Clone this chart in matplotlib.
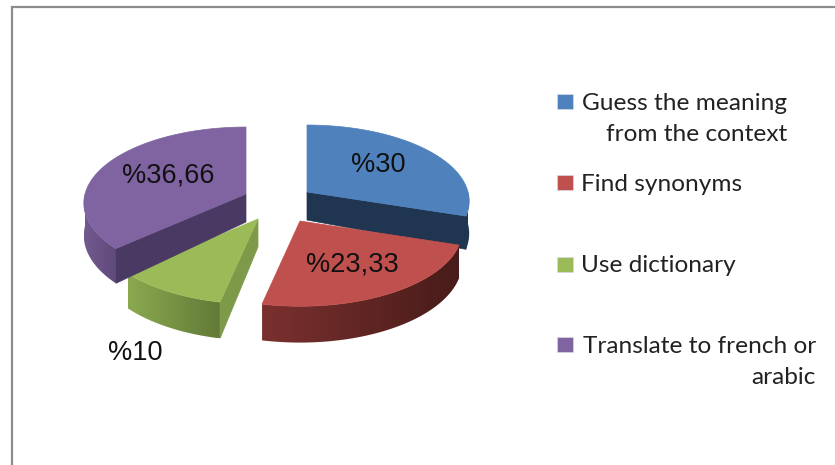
import numpy as np
import matplotlib
matplotlib.use("Agg")
import matplotlib.pyplot as plt
from matplotlib.colors import to_rgb
from matplotlib.patches import Polygon, Rectangle

# data
values = [30, 23.33, 10, 36.66]
pct_labels = ["%30", "%23,33", "%10", "%36,66"]
legend_labels = ["Guess the meaning\nfrom the context", "Find synonyms",
                 "Use dictionary", "Translate to french or\narabic"]

top_colors = ["#4f81bd", "#c0504d", "#9bbb59", "#8064a2"]
wall_from = ["#1f3550", "#7a302e", "#8aa94f", "#72598f"]
wall_to = ["#1f3550", "#481c1a", "#617a37", "#5f4a7a"]
cut_colors = ["#1f3550", "#481c1a", "#7d9a48", "#4a3a63"]

# layout, in pixels of the 835x465 image
apex = [(307, 192), (300, 221), (258, 219), (246, 194)]
label_pos = [(378, 165), (352, 264), (135, 353), (168, 175)]
legend_y = [94, 175, 257, 337]
legend_text = [(787, 119, "right"), (581, 184, "left"), (581, 265, "left"), (816, 362, "right")]
RX, RY, K, DEPTH = 161, 75, 0.12, 32


def project(center, theta, r=1.0, down=0.0):
    # theta clockwise from 12 o'clock, with a little perspective towards the viewer
    X, Y = np.sin(theta) * r, -np.cos(theta) * r
    s = 1 / (1 - K * Y)
    return np.column_stack([center[0] + RX * X * s, center[1] + RY * Y * s + down * s])


fig = plt.figure(figsize=(8.35, 4.65), dpi=100)
ax = fig.add_axes([0, 0, 1, 1])

# chart frame, cut off by the image on the right and at the bottom
ax.plot([12, 12, 840], [470, 7, 7], color="#8c8c8c", lw=1.6, solid_joinstyle="miter")

edges = np.radians(np.cumsum([0] + values) / np.sum(values) * 360)

for i in range(len(values)):
    c = apex[i]
    a0, a1 = edges[i], edges[i + 1]
    th = np.linspace(a0, a1, 80)

    # outer wall, only the part towards the viewer, shaded from left to right
    front = np.linspace(max(a0, np.pi / 2), min(a1, 3 * np.pi / 2), 60)
    if front[-1] > front[0]:
        wall = np.vstack([project(c, front), project(c, front[::-1], down=DEPTH)])
        patch = Polygon(wall, fc="none", ec="none", zorder=2 + i)
        ax.add_patch(patch)
        ramp = np.linspace(to_rgb(wall_from[i]), to_rgb(wall_to[i]), 64)[np.newaxis, :, :]
        extent = [wall[:, 0].min(), wall[:, 0].max(), wall[:, 1].max(), wall[:, 1].min()]
        im = ax.imshow(ramp, extent=extent, aspect="auto", zorder=2 + i, interpolation="bilinear")
        im.set_clip_path(patch)

    # flat cut wall where it faces the viewer
    cut = {0: a1, 2: a0, 3: a0}.get(i)
    if cut is not None:
        quad = np.vstack([[c], project(c, np.array([cut])),
                          project(c, np.array([cut]), down=DEPTH), [(c[0], c[1] + 28)]])
        ax.add_patch(Polygon(quad, fc=cut_colors[i], ec=cut_colors[i], lw=0.5, zorder=3 + i))

    # top face
    ax.add_patch(Polygon(np.vstack([[c], project(c, th)]), fc=top_colors[i],
                         ec=top_colors[i], lw=0.5, zorder=4 + i))

    ax.text(*label_pos[i], pct_labels[i], ha="center", va="center", zorder=10,
            family="Liberation Sans", fontsize=19.5, color="#111111")

    # legend
    ax.add_patch(Rectangle((557, legend_y[i]), 16, 15, fc=top_colors[i], ec="#d8d8e4", lw=0.5))
    tx, ty, ha = legend_text[i]
    ax.text(tx, ty, legend_labels[i], ha=ha, va="center", ma="right", linespacing=1.55,
            family="Lato", fontsize=17.6, color="#222222")

ax.set_xlim(0, 835)
ax.set_ylim(465, 0)
ax.axis("off")

fig.savefig("out.png", dpi=100, facecolor="white")
